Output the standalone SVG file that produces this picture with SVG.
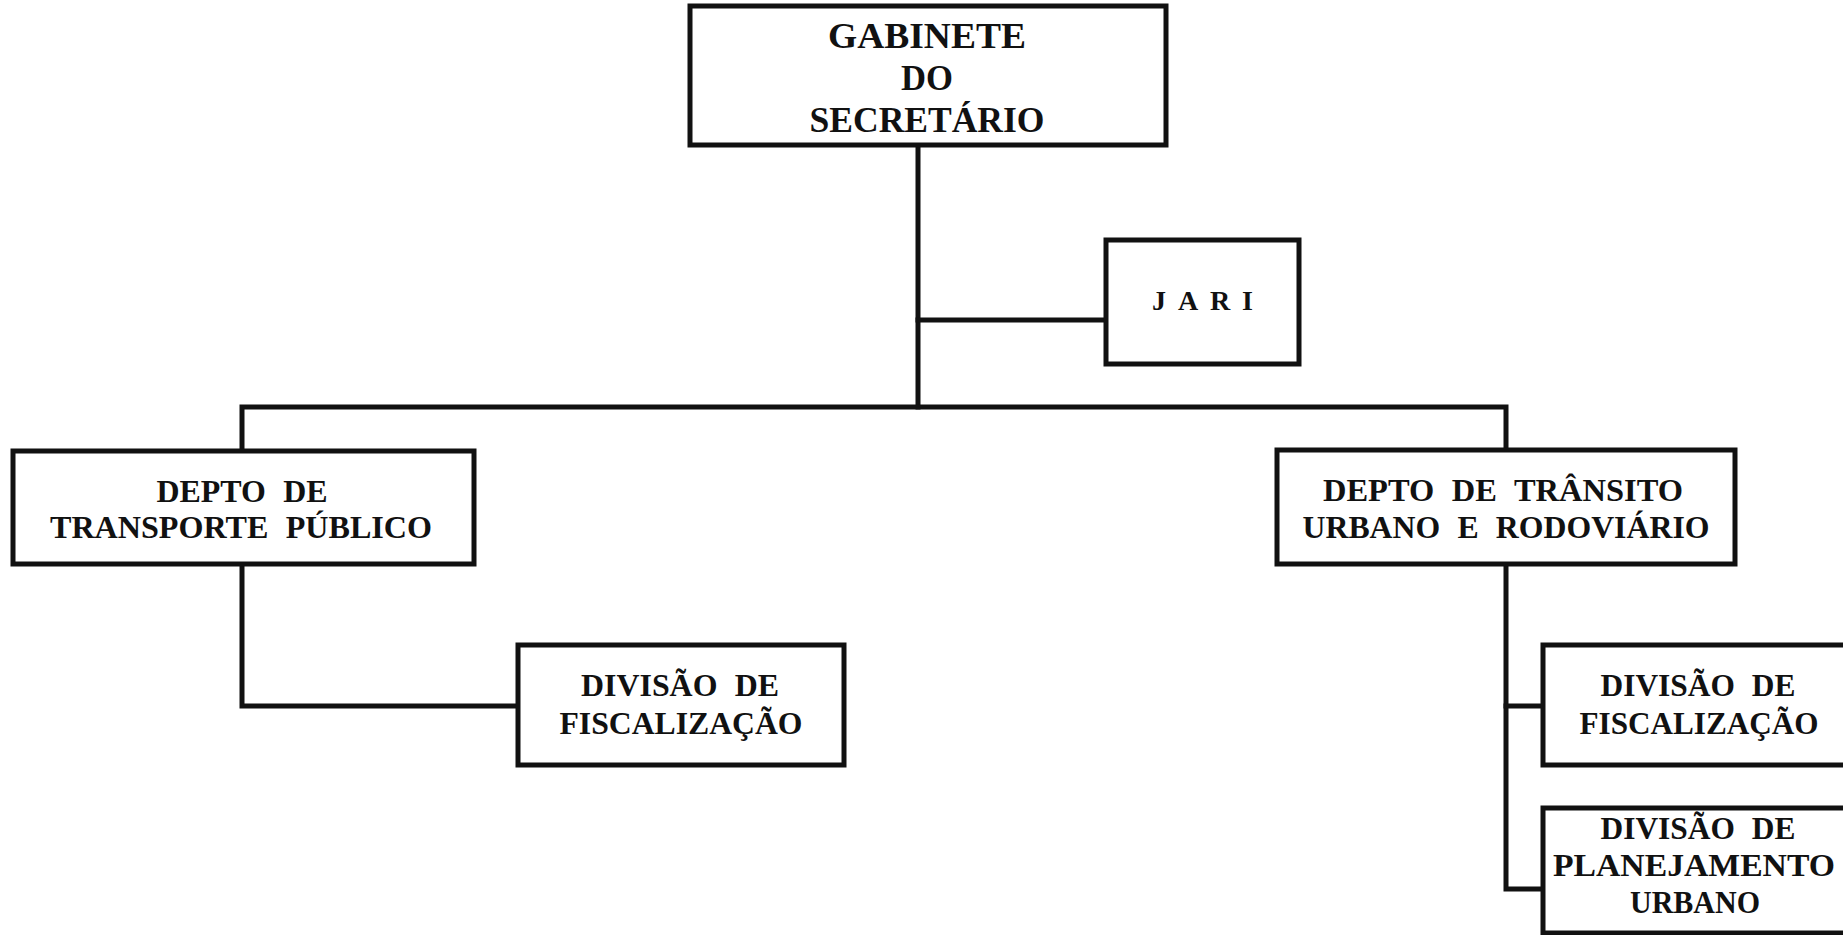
<svg xmlns="http://www.w3.org/2000/svg" width="1843" height="935" viewBox="0 0 1843 935">
<style>
.box{fill:#fff;stroke:#111;stroke-width:5}
.ln{fill:none;stroke:#111;stroke-width:5;stroke-linecap:square}
text{font-family:"Liberation Serif","Times New Roman",serif;font-weight:bold;fill:#111;text-anchor:middle}
.t31{font-size:31px;word-spacing:9px}
.t35{font-size:35px}
</style>
<rect width="1843" height="935" fill="#fff"/>
<g id="connectors">
<path class="ln" d="M918,146 V407"/>
<path class="ln" d="M918,320 H1106"/>
<path class="ln" d="M242,450 V407 H1506 V450"/>
<path class="ln" d="M242,565 V706 H518"/>
<path class="ln" d="M1506,565 V889 H1543"/>
<path class="ln" d="M1506,706 H1543"/>
</g>
<g id="gabinete">
<rect class="box" x="690" y="6" width="476" height="139"/>
<text class="t35" x="927" y="48" textLength="198" lengthAdjust="spacingAndGlyphs">GABINETE</text>
<text class="t35" x="927" y="90" textLength="52" lengthAdjust="spacingAndGlyphs">DO</text>
<text class="t35" x="927" y="132" textLength="235" lengthAdjust="spacingAndGlyphs">SECRETÁRIO</text>
</g>
<g id="jari">
<rect class="box" x="1106" y="240" width="193" height="124"/>
<text style="font-size:28px;text-anchor:start" x="1152" y="310" textLength="101" lengthAdjust="spacing">JARI</text>
</g>
<g id="depto-transporte">
<rect class="box" x="13" y="451" width="461" height="113"/>
<text class="t31" x="242" y="502" textLength="171" lengthAdjust="spacingAndGlyphs">DEPTO DE</text>
<text class="t31" x="241" y="538" textLength="382" lengthAdjust="spacingAndGlyphs">TRANSPORTE PÚBLICO</text>
</g>
<g id="depto-transito">
<rect class="box" x="1277" y="450" width="458" height="114"/>
<text class="t31" x="1503" y="501" textLength="360" lengthAdjust="spacingAndGlyphs">DEPTO DE TRÂNSITO</text>
<text class="t31" x="1506" y="538" textLength="407" lengthAdjust="spacingAndGlyphs">URBANO E RODOVIÁRIO</text>
</g>
<g id="div-fiscalizacao-1">
<rect class="box" x="518" y="645" width="326" height="120"/>
<text class="t31" x="680" y="696" textLength="198" lengthAdjust="spacingAndGlyphs">DIVISÃO DE</text>
<text class="t31" x="681" y="734" textLength="243" lengthAdjust="spacingAndGlyphs">FISCALIZAÇÃO</text>
</g>
<g id="div-fiscalizacao-2">
<rect class="box" x="1543" y="645" width="330" height="120"/>
<text class="t31" x="1698" y="696" textLength="195" lengthAdjust="spacingAndGlyphs">DIVISÃO DE</text>
<text class="t31" x="1699" y="734" textLength="239" lengthAdjust="spacingAndGlyphs">FISCALIZAÇÃO</text>
</g>
<g id="div-planejamento">
<rect class="box" x="1543" y="808" width="330" height="125"/>
<text class="t31" x="1698" y="839" textLength="195" lengthAdjust="spacingAndGlyphs">DIVISÃO DE</text>
<text class="t31" x="1694" y="876" textLength="282" lengthAdjust="spacingAndGlyphs">PLANEJAMENTO</text>
<text class="t31" x="1695" y="913" textLength="130" lengthAdjust="spacingAndGlyphs">URBANO</text>
</g>
</svg>
